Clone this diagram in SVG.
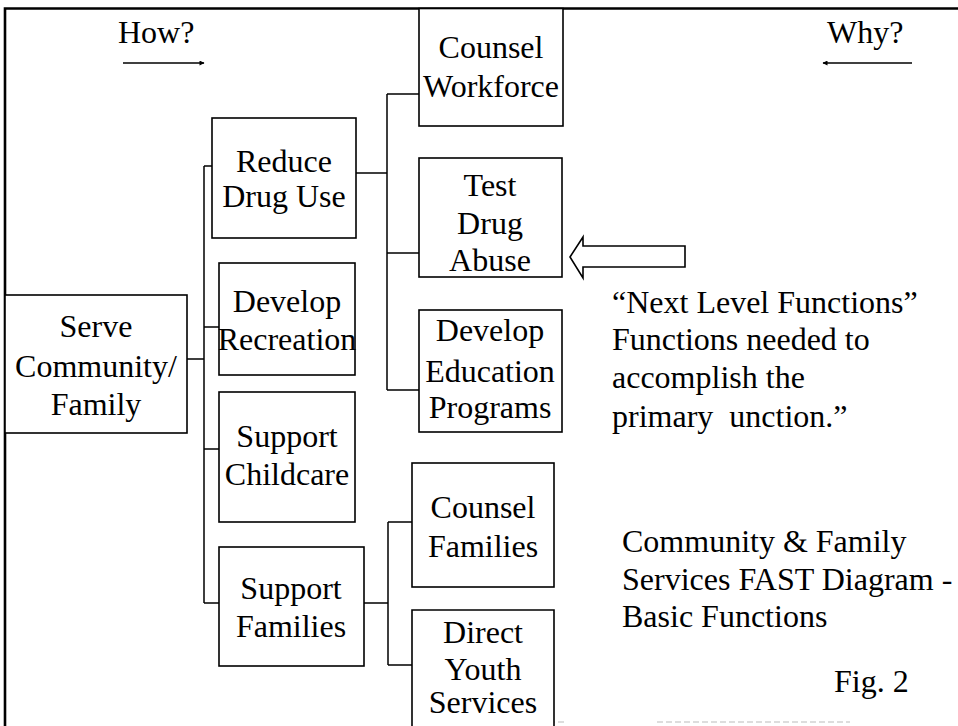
<svg xmlns="http://www.w3.org/2000/svg" width="958" height="726" viewBox="0 0 958 726">
<style>
  .box { fill: #fff; stroke: #000; stroke-width: 1.6; }
  .t { font-family: 'Liberation Serif', 'Times New Roman', Tinos, 'DejaVu Serif', serif; font-size: 32px; fill: #000; }
  .c { text-anchor: middle; }
  .ln { fill: none; stroke: #000; stroke-width: 1.5; }
</style>
<defs>
  <marker id="ah" viewBox="0 0 10 10" refX="9" refY="5" markerWidth="7" markerHeight="5" orient="auto" markerUnits="userSpaceOnUse">
    <path d="M0,0 L10,5 L0,10 Z" fill="#000"/>
  </marker>
</defs>
<rect x="0" y="0" width="958" height="726" fill="#fff"/>
<g id="frame">
  <path d="M5,726 V8.5 H958" fill="none" stroke="#000" stroke-width="2.6"/>
  <path d="M540,722 H567 M657,722 H850" fill="none" stroke="#bbb" stroke-width="1.2" stroke-dasharray="6 3"/>
</g>
<g id="how">
  <text class="t" x="118" y="43">How?</text>
  <line class="ln" x1="123" y1="63" x2="204" y2="63" stroke-width="1.4" marker-end="url(#ah)"/>
</g>
<g id="why">
  <text class="t" x="827" y="43">Why?</text>
  <line class="ln" x1="912" y1="63" x2="823" y2="63" stroke-width="1.4" marker-end="url(#ah)"/>
</g>
<g id="connectors">
  <path class="ln" d="M187,359 H204 M204,166 V603 M204,166 H212 M204,327 H219 M204,449 H219 M204,603 H219"/>
  <path class="ln" d="M356,173 H387 M387,94 V390 M387,94 H419 M387,253 H419 M387,390 H419"/>
  <path class="ln" d="M364,603 H388 M388,522 V665 M388,522 H412 M388,665 H412"/>
</g>
<g id="serve">
  <rect class="box" x="5" y="295" width="182" height="138"/>
  <text class="t c" x="96" y="337">Serve</text>
  <text class="t c" x="96" y="377">Community/</text>
  <text class="t c" x="96" y="415">Family</text>
</g>
<g id="reduce">
  <rect class="box" x="212" y="118" width="144" height="120"/>
  <text class="t c" x="284" y="172">Reduce</text>
  <text class="t c" x="284" y="207">Drug Use</text>
</g>
<g id="recreation">
  <rect class="box" x="219" y="263" width="136" height="112"/>
  <text class="t c" x="287" y="312">Develop</text>
  <text class="t c" x="287" y="350">Recreation</text>
</g>
<g id="childcare">
  <rect class="box" x="219" y="392" width="136" height="130"/>
  <text class="t c" x="287" y="447">Support</text>
  <text class="t c" x="287" y="485">Childcare</text>
</g>
<g id="families">
  <rect class="box" x="219" y="547" width="145" height="119"/>
  <text class="t c" x="291" y="599">Support</text>
  <text class="t c" x="291" y="637">Families</text>
</g>
<g id="workforce">
  <rect class="box" x="419" y="8.5" width="144" height="117.5"/>
  <text class="t c" x="491" y="58">Counsel</text>
  <text class="t c" x="491" y="97">Workforce</text>
</g>
<g id="test">
  <rect class="box" x="419" y="158" width="143" height="119"/>
  <text class="t c" x="490" y="196">Test</text>
  <text class="t c" x="490" y="234">Drug</text>
  <text class="t c" x="490" y="271">Abuse</text>
</g>
<g id="education">
  <rect class="box" x="419" y="310" width="143" height="122"/>
  <text class="t c" x="490" y="341">Develop</text>
  <text class="t c" x="490" y="382">Education</text>
  <text class="t c" x="490" y="418">Programs</text>
</g>
<g id="counselfam">
  <rect class="box" x="412" y="463" width="142" height="124"/>
  <text class="t c" x="483" y="518">Counsel</text>
  <text class="t c" x="483" y="557">Families</text>
</g>
<g id="youth">
  <path class="box" d="M412,727 V610 H554 V727"/>
  <text class="t c" x="483" y="643">Direct</text>
  <text class="t c" x="483" y="680">Youth</text>
  <text class="t c" x="483" y="713">Services</text>
</g>
<g id="pointer">
  <path d="M570,257 L583,237 L583,246 L685,246 L685,267 L583,267 L583,278 Z" fill="#fff" stroke="#000" stroke-width="1.6" stroke-linejoin="miter"/>
</g>
<g id="note">
  <text class="t" x="612" y="313">“Next Level Functions”</text>
  <text class="t" x="612" y="350">Functions needed to</text>
  <text class="t" x="612" y="388">accomplish the</text>
  <text class="t" x="612" y="427" xml:space="preserve">primary  unction.”</text>
</g>
<g id="caption">
  <text class="t" x="622" y="552">Community &amp; Family</text>
  <text class="t" x="622" y="590">Services FAST Diagram -</text>
  <text class="t" x="622" y="627">Basic Functions</text>
  <text class="t" x="834" y="692">Fig. 2</text>
</g>
</svg>
